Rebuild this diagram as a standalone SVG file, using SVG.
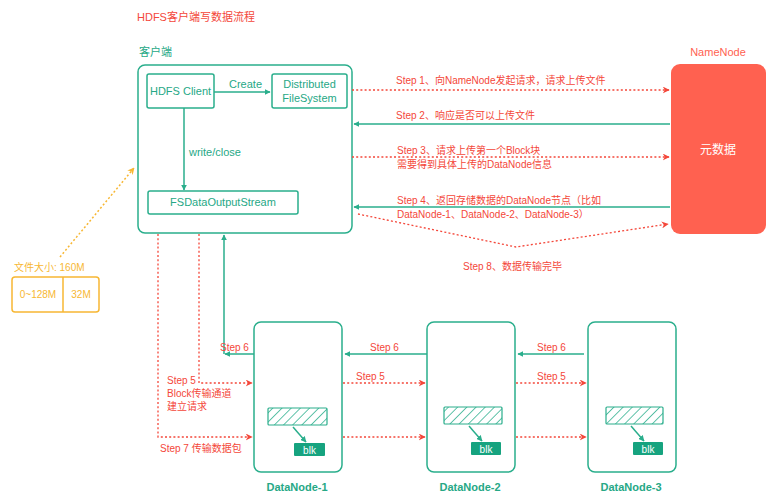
<svg xmlns="http://www.w3.org/2000/svg" width="776" height="502" viewBox="0 0 776 502">
<style>
text{font-family:"Liberation Sans",Arial,"Noto Sans CJK SC",sans-serif}
.t{fill:#26A886;font-size:11px}
.r{fill:#F4473A;font-size:10px}
.o{fill:#F7B733;font-size:10px}
.box{fill:#fff;stroke:#2AAE8C;stroke-width:1.5}
.sol{fill:none;stroke:#2AAE8C;stroke-width:1.5}
.dot{fill:none;stroke:#F4473A;stroke-width:1.3;stroke-dasharray:2 2.2}
.dn{fill:#26A886;font-size:11px;font-weight:bold}
</style>
<defs>
<marker id="ta" viewBox="0 0 10 10" refX="9" refY="5" markerWidth="6" markerHeight="6" orient="auto" markerUnits="userSpaceOnUse"><path d="M0,0 L10,5 L0,10 z" fill="#2AAE8C"/></marker>
<marker id="ra" viewBox="0 0 10 10" refX="9" refY="5" markerWidth="7" markerHeight="7" orient="auto" markerUnits="userSpaceOnUse"><path d="M0,0 L10,5 L0,10 L3,5 z" fill="#F4473A"/></marker>
<marker id="oa" viewBox="0 0 10 10" refX="9" refY="5" markerWidth="7" markerHeight="7" orient="auto" markerUnits="userSpaceOnUse"><path d="M0,0 L10,5 L0,10 L3,5 z" fill="#F7B733"/></marker>
<pattern id="hatch" patternUnits="userSpaceOnUse" width="6.5" height="6.5" patternTransform="rotate(45)"><line x1="0" y1="0" x2="0" y2="6.5" stroke="#2AAE8C" stroke-width="1.5"/></pattern>
</defs>
<rect width="776" height="502" fill="#fff"/>
<text x="137" y="21" fill="#F4473A" font-size="11">HDFS客户端写数据流程</text>

<g id="client">
<text x="139" y="56" class="t">客户端</text>
<rect x="138" y="65" width="214" height="168" rx="7" class="box"/>
</g>
<g id="hdfsclient">
<rect x="147" y="74" width="67" height="34" rx="2" class="box"/>
<text x="180.5" y="95" class="t" text-anchor="middle">HDFS Client</text>
</g>
<g id="dfs">
<rect x="272" y="74" width="75" height="34" rx="2" class="box"/>
<text x="309.5" y="88" class="t" text-anchor="middle">Distributed</text>
<text x="309.5" y="102" class="t" text-anchor="middle">FileSystem</text>
</g>
<g id="fsdos">
<rect x="148" y="191" width="150" height="23" rx="2" class="box"/>
<text x="223" y="206" class="t" text-anchor="middle">FSDataOutputStream</text>
</g>
<g id="namenode">
<text x="718" y="56" fill="#FF6150" font-size="11" text-anchor="middle">NameNode</text>
<rect x="671" y="64" width="95" height="170" rx="9" fill="#FF6150"/>
<text x="718" y="154" fill="#fff" font-size="12" text-anchor="middle">元数据</text>
</g>
<g id="filesize">
<text x="14" y="271" class="o">文件大小: 160M</text>
<rect x="12" y="277" width="87" height="35" rx="3" fill="#fff" stroke="#F7B733" stroke-width="1.5"/>
<line x1="63" y1="277" x2="63" y2="312" stroke="#F7B733" stroke-width="1.5"/>
<text x="38" y="298" class="o" text-anchor="middle">0~128M</text>
<text x="81" y="298" class="o" text-anchor="middle">32M</text>
</g>
<g id="datanode1">
<rect x="254" y="322" width="88" height="150" rx="7" class="box"/>
<rect x="268" y="408" width="59" height="17" rx="1" fill="url(#hatch)" stroke="#2AAE8C" stroke-width="1.2"/>
<line x1="293" y1="427" x2="306" y2="442" class="sol" stroke-width="1.2" marker-end="url(#ta)"/>
<rect x="294" y="443" width="31" height="13" rx="1" fill="#16A37F"/>
<text x="309.5" y="453.5" fill="#fff" font-size="10" text-anchor="middle">blk</text>
<text x="297" y="491" class="dn" text-anchor="middle">DataNode-1</text>
</g>
<g id="datanode2">
<rect x="427" y="322" width="88" height="150" rx="7" class="box"/>
<rect x="444" y="407" width="58" height="17" rx="1" fill="url(#hatch)" stroke="#2AAE8C" stroke-width="1.2"/>
<line x1="469" y1="426" x2="482" y2="441" class="sol" stroke-width="1.2" marker-end="url(#ta)"/>
<rect x="471" y="442" width="30" height="13" rx="1" fill="#16A37F"/>
<text x="486" y="452.5" fill="#fff" font-size="10" text-anchor="middle">blk</text>
<text x="470" y="491" class="dn" text-anchor="middle">DataNode-2</text>
</g>
<g id="datanode3">
<rect x="588" y="322" width="88" height="150" rx="7" class="box"/>
<rect x="606" y="407" width="57" height="17" rx="1" fill="url(#hatch)" stroke="#2AAE8C" stroke-width="1.2"/>
<line x1="631" y1="426" x2="644" y2="441" class="sol" stroke-width="1.2" marker-end="url(#ta)"/>
<rect x="633" y="442" width="30" height="13" rx="1" fill="#16A37F"/>
<text x="648" y="452.5" fill="#fff" font-size="10" text-anchor="middle">blk</text>
<text x="631" y="491" class="dn" text-anchor="middle">DataNode-3</text>
</g>

<g id="connectors">
<line x1="214" y1="92" x2="270" y2="92" class="sol" marker-end="url(#ta)"/>
<text x="229" y="88" class="t">Create</text>
<line x1="184" y1="108" x2="184" y2="190" class="sol" marker-end="url(#ta)"/>
<text x="189" y="156" class="t">write/close</text>

<line x1="352" y1="90" x2="669" y2="90" class="dot" marker-end="url(#ra)"/>
<text x="396" y="84" class="r">Step 1、向NameNode发起请求，请求上传文件</text>
<line x1="670" y1="124" x2="354" y2="124" class="sol" marker-end="url(#ta)"/>
<text x="396" y="119" class="r">Step 2、响应是否可以上传文件</text>
<line x1="352" y1="157" x2="669" y2="157" class="dot" marker-end="url(#ra)"/>
<text x="397" y="154" class="r">Step 3、请求上传第一个Block块</text>
<text x="397" y="168" class="r">需要得到具体上传的DataNode信息</text>
<line x1="670" y1="207" x2="354" y2="207" class="sol" marker-end="url(#ta)"/>
<text x="397" y="204" class="r">Step 4、返回存储数据的DataNode节点（比如</text>
<text x="397" y="218" class="r">DataNode-1、DataNode-2、DataNode-3）</text>
<polyline points="358,214 516,247 668,224" class="dot" marker-end="url(#ra)"/>
<text x="463" y="270" class="r">Step 8、数据传输完毕</text>

<line x1="60" y1="257" x2="134" y2="168" stroke="#F7B733" stroke-width="1.5" stroke-dasharray="2 2.2" marker-end="url(#oa)"/>

<polyline points="158,234 158,437 252,437" class="dot" marker-end="url(#ra)"/>
<text x="160" y="452" class="r">Step 7 传输数据包</text>
<polyline points="199,234 199,383 252,383" class="dot" marker-end="url(#ra)"/>
<text x="167" y="384" class="r">Step 5</text>
<text x="167" y="397" class="r">Block传输通道</text>
<text x="167" y="410" class="r">建立请求</text>
<line x1="254" y1="354" x2="225" y2="354" class="sol" marker-end="url(#ta)"/>
<line x1="224" y1="354" x2="224" y2="235" class="sol" marker-end="url(#ta)"/>
<text x="220" y="351" class="r">Step 6</text>

<line x1="427" y1="354" x2="345" y2="354" class="sol" marker-end="url(#ta)"/>
<text x="370" y="351" class="r">Step 6</text>
<line x1="343" y1="383" x2="425" y2="383" class="dot" marker-end="url(#ra)"/>
<text x="356" y="380" class="r">Step 5</text>
<line x1="343" y1="437" x2="425" y2="437" class="dot" marker-end="url(#ra)"/>

<line x1="584" y1="354" x2="518" y2="354" class="sol" marker-end="url(#ta)"/>
<text x="537" y="351" class="r">Step 6</text>
<line x1="516" y1="383" x2="586" y2="383" class="dot" marker-end="url(#ra)"/>
<text x="537" y="380" class="r">Step 5</text>
<line x1="516" y1="437" x2="586" y2="437" class="dot" marker-end="url(#ra)"/>
</g>
</svg>
